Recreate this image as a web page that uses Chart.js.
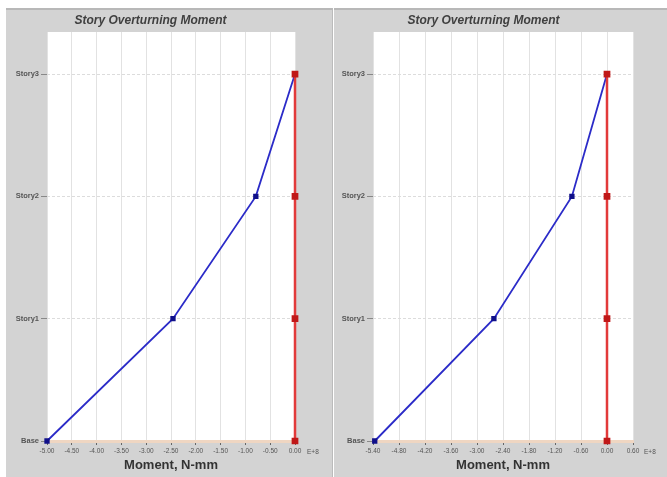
<!DOCTYPE html>
<html>
<head>
<meta charset="utf-8">
<script src="https://cdn.jsdelivr.net/npm/chart.js@4.4.1/dist/chart.umd.min.js"></script>
<style>
  body { margin: 0; background: #fff; width: 667px; height: 477px; position: relative; overflow: hidden; }
  .panel { position: absolute; top: 8px; height: 469px; background: #d3d3d3; border-top: 2px solid #b8b8b8; box-sizing: border-box; }
  .panel canvas { position: absolute; left: 0; top: -2px; }
  .exp { position: absolute; font: 6.5px "Liberation Sans", Arial, sans-serif; color: #555; }
</style>
</head>
<body>
<div class="panel" id="p1" style="left:6px;width:327px;border-right:1px solid #bbb;">
  <canvas id="c1" width="327" height="469"></canvas>
</div>
<div class="panel" id="p2" style="left:334px;width:333px;">
  <canvas id="c2" width="333" height="469"></canvas>
</div>
<span class="exp" style="left:307px;top:448px;">E+8</span>
<span class="exp" style="left:644px;top:448px;">E+8</span>
<script>
// story levels (y) and their names
const storyLevels = [0, 1, 2, 3];
const storyNames = ["Base", "Story1", "Story2", "Story3"];

// moments in E+8 N-mm, Base..Story3
const leftMoment = [-5.0, -2.46, -0.79, 0.0];
const rightMoment = [-5.36, -2.61, -0.81, 0.0];
const limitMoment = [0, 0, 0, 0];

// x tick labels
const leftTicks = [-5.0, -4.5, -4.0, -3.5, -3.0, -2.5, -2.0, -1.5, -1.0, -0.5, 0.0];
const rightTicks = [-5.4, -4.8, -4.2, -3.6, -3.0, -2.4, -1.8, -1.2, -0.6, 0.0, 0.6];

const plotBg = {
  id: "plotBg",
  beforeDraw(chart) {
    const a = chart.chartArea;
    chart.ctx.save();
    chart.ctx.fillStyle = "#ffffff";
    chart.ctx.fillRect(a.left, a.top, a.right - a.left, a.bottom - a.top);
    chart.ctx.restore();
  },
};

function makeChart(id, values, ticks, yWidth, rightPad) {
  const pts = (arr) => arr.map((v, i) => ({ x: v, y: storyLevels[i] }));
  return new Chart(document.getElementById(id), {
    type: "scatter",
    data: {
      datasets: [
        {
          data: pts(limitMoment),
          showLine: true,
          clip: false,
          borderColor: "#e23a3a",
          borderWidth: 2.5,
          pointStyle: "rect",
          pointRadius: 3,
          pointBackgroundColor: "#c01818",
          pointBorderColor: "#c01818",
        },
        {
          data: pts(values),
          showLine: true,
          clip: false,
          borderColor: "#2b2bc8",
          borderWidth: 1.8,
          pointStyle: "rect",
          pointRadius: 2.5,
          pointBackgroundColor: "#10108a",
          pointBorderColor: "#10108a",
        },
      ],
    },
    options: {
      responsive: false,
      devicePixelRatio: 1,
      animation: false,
      layout: { padding: { left: 0, right: rightPad, top: 0, bottom: 0 } },
      plugins: {
        legend: { display: false },
        tooltip: { enabled: false },
        title: {
          display: true,
          text: "Story Overturning Moment",
          color: "#404040",
          font: { family: "Liberation Sans", size: 12, weight: "bold", style: "italic" },
          padding: { top: 5, bottom: 4.6 },
        },
      },
      scales: {
        x: {
          type: "linear",
          min: ticks[0],
          max: ticks[ticks.length - 1],
          afterBuildTicks: (s) => { s.ticks = ticks.map((v) => ({ value: v })); },
          afterFit: (s) => { s.height = 36; },
          grid: { color: "#e2e2e2", lineWidth: 1, tickLength: 4, tickColor: "#666" },
          border: { display: true, color: "#efd6c2", width: 3 },
          ticks: {
            color: "#555",
            padding: 2,
            maxRotation: 0,
            autoSkip: false,
            font: { family: "Liberation Sans", size: 6.5 },
            callback: (v) => Number(v).toFixed(2),
          },
          title: {
            display: true,
            text: "Moment, N-mm",
            color: "#333",
            font: { family: "Liberation Sans", size: 13, weight: "bold" },
            padding: { top: 0, bottom: 4 },
          },
        },
        y: {
          type: "linear",
          min: 0,
          max: 3.344,
          afterBuildTicks: (s) => { s.ticks = storyLevels.map((v) => ({ value: v })); },
          afterFit: (s) => { s.width = yWidth; },
          grid: { color: "#dcdcdc", lineWidth: 1, tickLength: 6, tickColor: "#888" },
          border: { display: false, dash: [3, 2] },
          ticks: {
            color: "#555",
            padding: 2,
            font: { family: "Liberation Sans", size: 7.5, weight: "bold" },
            callback: (v) => storyNames[storyLevels.indexOf(v)],
          },
        },
      },
    },
    plugins: [plotBg],
  });
}

makeChart("c1", leftMoment, leftTicks, 41, 38);
makeChart("c2", rightMoment, rightTicks, 39, 34);
</script>
</body>
</html>
